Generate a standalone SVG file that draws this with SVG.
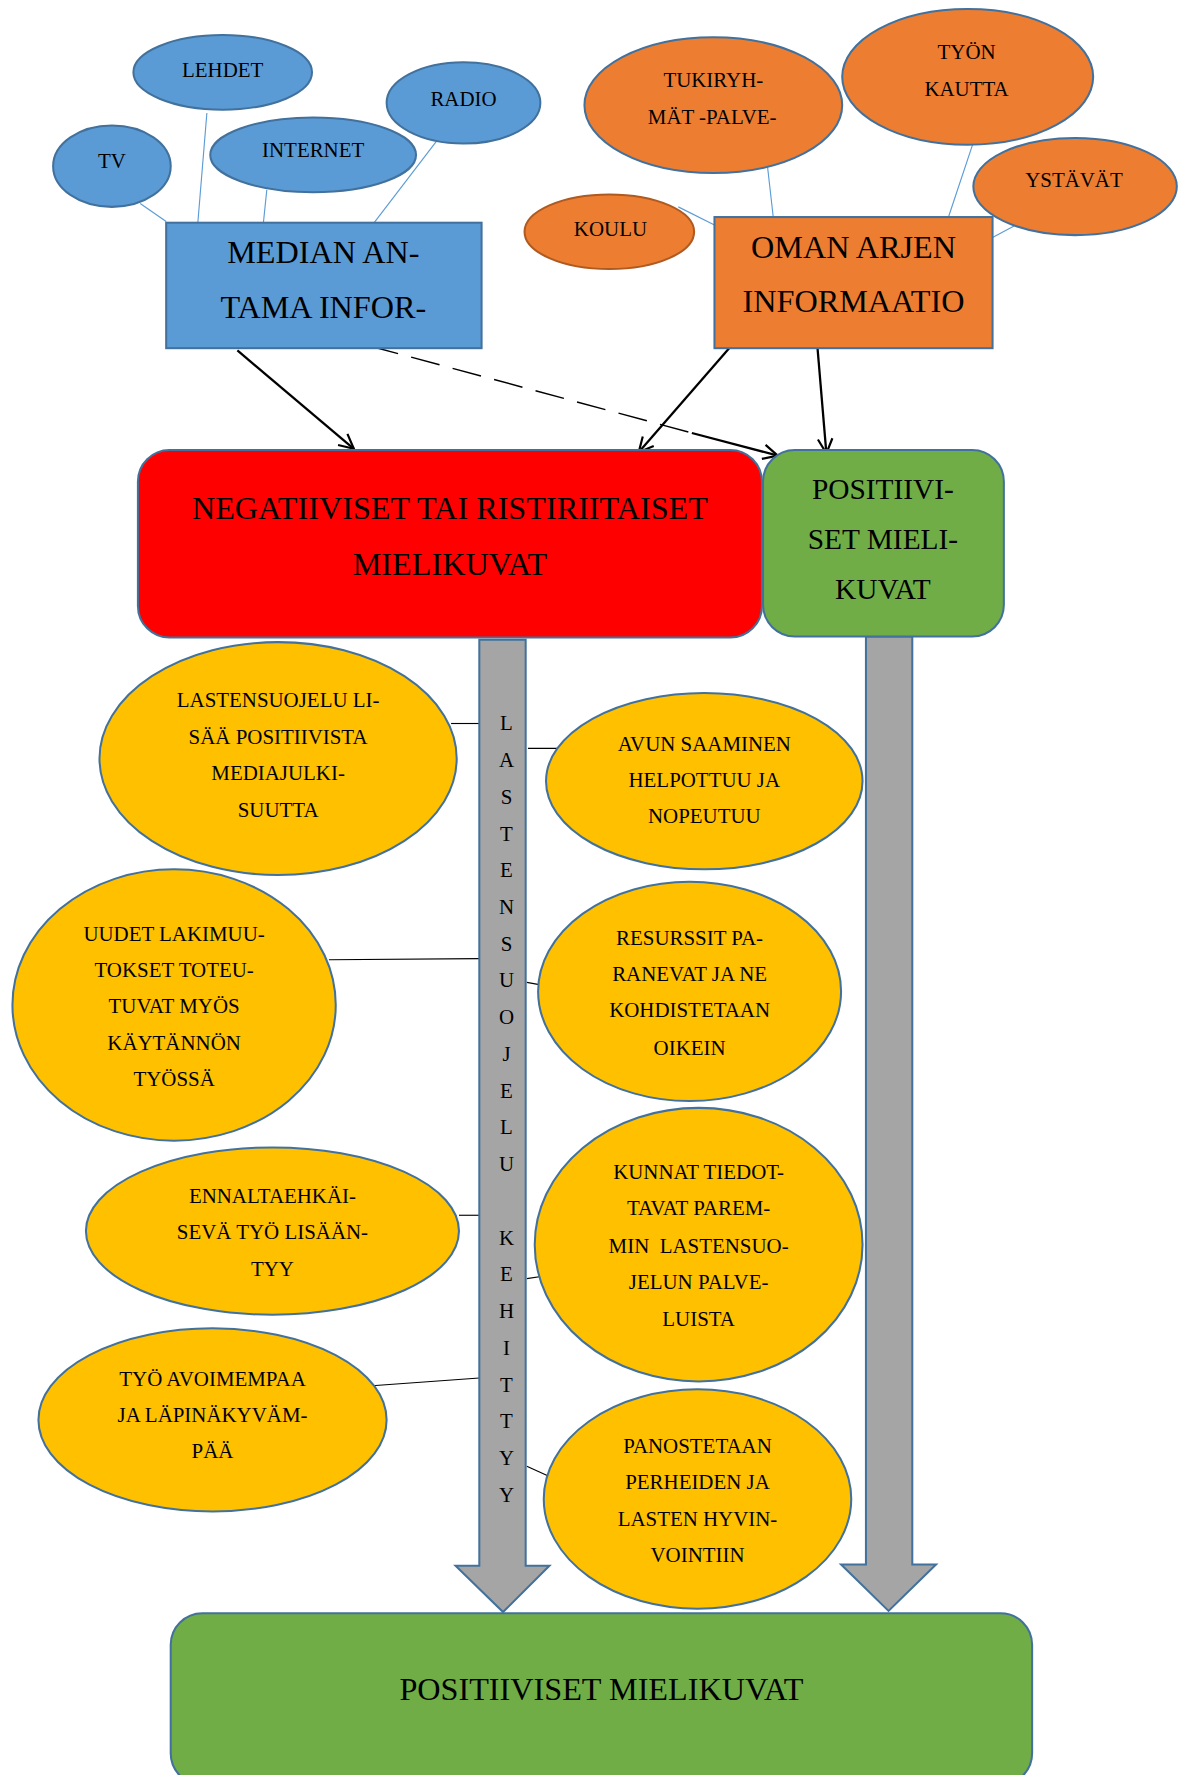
<svg xmlns="http://www.w3.org/2000/svg" width="1187" height="1775" viewBox="0 0 1187 1775">
<defs>
<style>
text{font-family:"Liberation Serif","Times New Roman",serif;fill:#000;text-anchor:middle}
.s{font-size:18.5px}
.b{font-size:28.5px}
.m{font-size:26px}
.blue{fill:#5B9BD5;stroke:#41719C;stroke-width:1.8}
.org{fill:#ED7D31;stroke:#41719C;stroke-width:1.8}
.yel{fill:#FFC000;stroke:#41719C;stroke-width:1.8}
.gray{fill:#A5A5A5;stroke:#41719C;stroke-width:1.8}
.thinb{stroke:#5B9BD5;stroke-width:1;fill:none}
.thin{stroke:#000;stroke-width:1;fill:none}
.arr{stroke:#000;stroke-width:2;fill:none}
</style>
<marker id="ah" viewBox="0 0 14 14" refX="13" refY="7" markerWidth="15" markerHeight="15" markerUnits="userSpaceOnUse" orient="auto">
<path d="M1,1 L13,7 L1,13" fill="none" stroke="#000" stroke-width="1.8"/>
</marker>
</defs>
<rect width="1187" height="1775" fill="#fff"/>
<g transform="scale(1.130476)">
<g id="connectors">
<line class="thinb" x1="124" y1="180" x2="147" y2="196"/>
<line class="thinb" x1="183" y1="100" x2="175" y2="197"/>
<line class="thinb" x1="236" y1="168" x2="233" y2="197"/>
<line class="thinb" x1="386" y1="125" x2="331" y2="197"/>
<line class="thinb" x1="600" y1="183" x2="632" y2="199"/>
<line class="thinb" x1="679" y1="148" x2="684" y2="192"/>
<line class="thinb" x1="861" y1="126" x2="839" y2="192"/>
<line class="thinb" x1="897" y1="200" x2="878" y2="210"/>
<line class="arr" x1="210" y1="310" x2="313" y2="397" marker-end="url(#ah)"/>
<line class="arr" x1="645" y1="308" x2="565" y2="400" marker-end="url(#ah)"/>
<line class="arr" x1="723" y1="306" x2="731" y2="401" marker-end="url(#ah)"/>
<line x1="327" y1="306" x2="612" y2="383" stroke="#000" stroke-width="1.3" stroke-dasharray="26 12"/>
<line class="arr" x1="612" y1="383" x2="688" y2="403" marker-end="url(#ah)"/>
<line class="thin" x1="399" y1="640" x2="424" y2="640"/>
<line class="thin" x1="467" y1="662" x2="495" y2="662"/>
<line class="thin" x1="291" y1="849" x2="424" y2="848"/>
<line class="thin" x1="466" y1="869" x2="477" y2="871"/>
<line class="thin" x1="406" y1="1075" x2="428" y2="1075"/>
<line class="thin" x1="466" y1="1131" x2="480" y2="1129"/>
<line class="thin" x1="326" y1="1226" x2="424" y2="1219"/>
<line class="thin" x1="466" y1="1297" x2="486" y2="1306"/>
</g>
<g id="arrow-left">
<polygon class="gray" points="424,566 465,566 465,1385 486,1385 445,1426 403,1385 424,1385"/>
<text class="s" x="448" y="646">L</text>
<text class="s" x="448" y="678.5">A</text>
<text class="s" x="448" y="711">S</text>
<text class="s" x="448" y="743.5">T</text>
<text class="s" x="448" y="776">E</text>
<text class="s" x="448" y="808.5">N</text>
<text class="s" x="448" y="841">S</text>
<text class="s" x="448" y="873.5">U</text>
<text class="s" x="448" y="906">O</text>
<text class="s" x="448" y="938.5">J</text>
<text class="s" x="448" y="971">E</text>
<text class="s" x="448" y="1003.5">L</text>
<text class="s" x="448" y="1036">U</text>
<text class="s" x="448" y="1101">K</text>
<text class="s" x="448" y="1133.5">E</text>
<text class="s" x="448" y="1166">H</text>
<text class="s" x="448" y="1198.5">I</text>
<text class="s" x="448" y="1231">T</text>
<text class="s" x="448" y="1263.5">T</text>
<text class="s" x="448" y="1296">Y</text>
<text class="s" x="448" y="1328.5">Y</text>
</g>
<g id="arrow-right">
<polygon class="gray" points="766,563 807,563 807,1384 828,1384 786,1425 744,1384 766,1384"/>
</g>
<g id="lehdet"><ellipse class="blue" cx="197" cy="64" rx="79" ry="33"/><text class="s" x="197" y="68">LEHDET</text></g>
<g id="tv"><ellipse class="blue" cx="99" cy="147" rx="52" ry="36"/><text class="s" x="99" y="149">TV</text></g>
<g id="internet"><ellipse class="blue" cx="277" cy="137" rx="91" ry="33"/><text class="s" x="277" y="139">INTERNET</text></g>
<g id="radio"><ellipse class="blue" cx="410" cy="91" rx="68" ry="36"/><text class="s" x="410" y="94">RADIO</text></g>
<g id="media"><rect class="blue" x="147" y="197" width="279" height="111"/><text class="b" x="286" y="233">MEDIAN AN-</text><text class="b" x="286" y="281">TAMA INFOR-</text></g>
<g id="tukiryhmat"><ellipse class="org" cx="631" cy="93" rx="114" ry="60"/><text class="s" x="631" y="77">TUKIRYH-</text><text class="s" x="630" y="110">MÄT -PALVE-</text></g>
<g id="tyon"><ellipse class="org" cx="856" cy="68" rx="111" ry="60"/><text class="s" x="855" y="52">TYÖN</text><text class="s" x="855" y="85">KAUTTA</text></g>
<g id="ystavat"><ellipse class="org" cx="951" cy="165" rx="90" ry="43"/><text class="s" x="950" y="165">YSTÄVÄT</text></g>
<g id="koulu"><ellipse cx="539" cy="205" rx="75" ry="33" fill="#ED7D31" stroke="#AE5A21" stroke-width="1.8"/><text class="s" x="540" y="209">KOULU</text></g>
<g id="oman"><rect class="org" x="632" y="192" width="246" height="116"/><text class="b" x="755" y="228">OMAN ARJEN</text><text class="b" x="755" y="276">INFORMAATIO</text></g>
<g id="negatiiviset"><rect x="122" y="398" width="552" height="166" rx="28" fill="#FF0000" stroke="#41719C" stroke-width="1.8"/><text class="b" x="398" y="459">NEGATIIVISET TAI RISTIRIITAISET</text><text class="b" x="398" y="509">MIELIKUVAT</text></g>
<g id="positiiviset-top"><rect x="675" y="398" width="213" height="165" rx="28" fill="#70AD47" stroke="#41719C" stroke-width="1.8"/><text class="m" x="781" y="441">POSITIIVI-</text><text class="m" x="781" y="486">SET MIELI-</text><text class="m" x="781" y="530">KUVAT</text></g>
<g id="e1"><ellipse class="yel" cx="246" cy="671" rx="158" ry="103"/><text class="s" x="246" y="625">LASTENSUOJELU LI-</text><text class="s" x="246" y="658">SÄÄ POSITIIVISTA</text><text class="s" x="246" y="690">MEDIAJULKI-</text><text class="s" x="246" y="723">SUUTTA</text></g>
<g id="e2"><ellipse class="yel" cx="623" cy="691" rx="140" ry="78"/><text class="s" x="623" y="664">AVUN SAAMINEN</text><text class="s" x="623" y="696">HELPOTTUU JA</text><text class="s" x="623" y="728">NOPEUTUU</text></g>
<g id="e3"><ellipse class="yel" cx="154" cy="889" rx="143" ry="120"/><text class="s" x="154" y="832">UUDET LAKIMUU-</text><text class="s" x="154" y="864">TOKSET TOTEU-</text><text class="s" x="154" y="896">TUVAT MYÖS</text><text class="s" x="154" y="929">KÄYTÄNNÖN</text><text class="s" x="154" y="961">TYÖSSÄ</text></g>
<g id="e4"><ellipse class="yel" cx="610" cy="877" rx="134" ry="97"/><text class="s" x="610" y="836">RESURSSIT PA-</text><text class="s" x="610" y="868">RANEVAT JA NE</text><text class="s" x="610" y="900">KOHDISTETAAN</text><text class="s" x="610" y="933">OIKEIN</text></g>
<g id="e5"><ellipse class="yel" cx="241" cy="1089" rx="165" ry="74"/><text class="s" x="241" y="1064">ENNALTAEHKÄI-</text><text class="s" x="241" y="1096">SEVÄ TYÖ LISÄÄN-</text><text class="s" x="241" y="1129">TYY</text></g>
<g id="e6"><ellipse class="yel" cx="618" cy="1101" rx="145" ry="121"/><text class="s" x="618" y="1043">KUNNAT TIEDOT-</text><text class="s" x="618" y="1075">TAVAT PAREM-</text><text class="s" x="618" y="1108">MIN&#160; LASTENSUO-</text><text class="s" x="618" y="1140">JELUN PALVE-</text><text class="s" x="618" y="1173">LUISTA</text></g>
<g id="e7"><ellipse class="yel" cx="188" cy="1256" rx="154" ry="81"/><text class="s" x="188" y="1226">TYÖ AVOIMEMPAA</text><text class="s" x="188" y="1258">JA LÄPINÄKYVÄM-</text><text class="s" x="188" y="1290">PÄÄ</text></g>
<g id="e8"><ellipse class="yel" cx="617" cy="1326" rx="136" ry="97"/><text class="s" x="617" y="1285">PANOSTETAAN</text><text class="s" x="617" y="1317">PERHEIDEN JA</text><text class="s" x="617" y="1350">LASTEN HYVIN-</text><text class="s" x="617" y="1382">VOINTIIN</text></g>
<g id="positiiviset-bottom"><rect x="151" y="1427" width="762" height="152" rx="28" fill="#70AD47" stroke="#41719C" stroke-width="1.8"/><text class="b" x="532" y="1504">POSITIIVISET MIELIKUVAT</text></g>
</g>
</svg>
